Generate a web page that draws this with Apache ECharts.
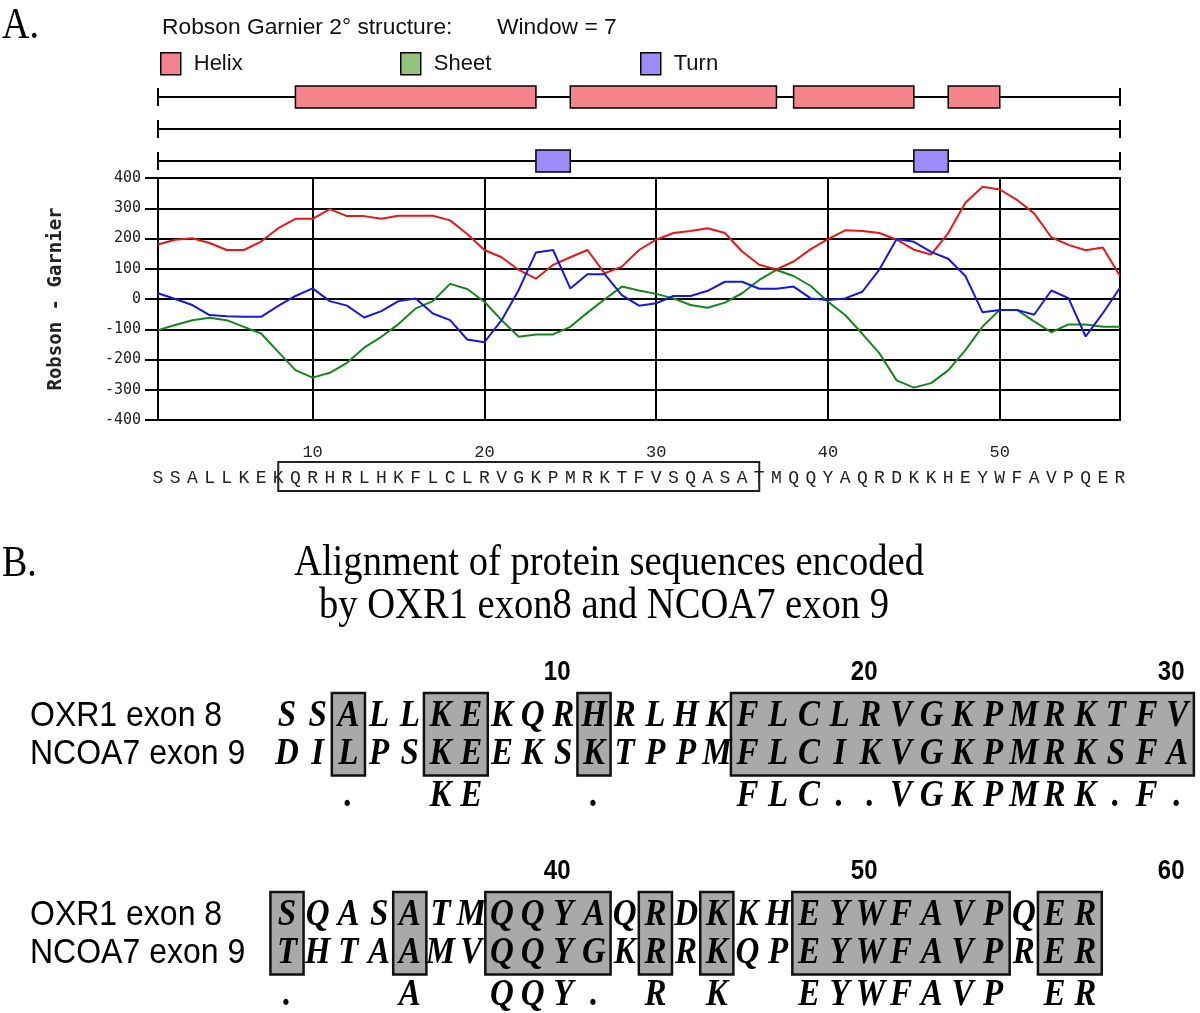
<!DOCTYPE html>
<html>
<head>
<meta charset="utf-8">
<title>Robson Garnier 2° structure / OXR1 - NCOA7 alignment</title>
<script src="https://cdn.jsdelivr.net/npm/echarts@6/dist/echarts.min.js"></script>
<style>
	html, body { margin: 0; padding: 0; background: #fff; }
	#main { width: 1200px; height: 1013px; }
</style>
</head>
<body>
<div id="main"></div>
<script>
	// ---- A. Robson Garnier profile (window = 7) ----
	var residues = [];
	for (var n = 1; n <= 57; n++) residues.push(String(n));

	var sequence = 'SSALLKEKQRHRLHKFLCLRVGKPMRKTFVSQASATMQQYAQRDKKHEYWFAVPQER'.split('');

	var helixValues = [180, 196, 201, 185, 162, 162, 190, 234, 265, 265,
		297, 274, 274, 265, 275, 275, 275, 260, 215, 162,
		138, 96, 67, 113, 138, 162, 85, 107, 162, 196,
		218, 225, 234, 218, 157, 113, 98, 124, 165, 198,
		227, 225, 218, 196, 163, 147, 218, 318, 371, 362,
		328, 283, 204, 179, 161, 170, 76];

	var sheetValues = [-103, -86, -70, -62, -70, -92, -114, -175, -235, -260,
		-244, -211, -161, -125, -83, -31, -7, 50, 33, -9,
		-70, -125, -117, -117, -92, -45, -1, 41, 28, 17,
		2, -20, -29, -12, 19, 63, 96, 76, 43, -9,
		-53, -115, -180, -269, -293, -278, -236, -169, -91, -36,
		-36, -74, -110, -84, -84, -92, -92];

	var turnValues = [19, 0, -20, -53, -57, -59, -59, -23, 10, 35,
		-7, -22, -61, -40, -7, 2, -48, -70, -134, -143,
		-70, 30, 154, 162, 35, 82, 82, 13, -22, -14,
		10, 10, 27, 57, 57, 34, 34, 41, 2, -3,
		2, 24, 98, 198, 189, 156, 133, 76, -44, -36,
		-36, -52, 28, 3, -124, -47, 37];

	var yTicks = [-400, 400, 100]; // min, max, step

	// predicted structure spans (residue from, residue to)
	var helixSpans = [[9, 23], [25, 37], [38, 45], [47, 50]];
	var sheetSpans = [];
	var turnSpans = [[23, 25], [45, 47]];
	var structureRows = ['Helix', 'Sheet', 'Turn'];

	// boxed stretch of the sequence under the plot
	var seqBox = [[9, 36]];

	// ---- B. alignment ----
	var oxr1Seq = 'SSALLKEKQRHRLHKFLCLRVGKPMRKTFVSQASATMQQYAQRDKKHEYWFAVPQER'.split('');
	var ncoa7Seq = 'DILPSKEEKSKTPPMFLCIKVGKPMRKSFATHTAAMVQQYGKRRKQPEYWFAVPRER'.split('');
	var consensusSeq = ('  .  KE   .    FLC..VGKPMRK.F.' + '.   A  QQY. R K  EYWFAVP ER').split('');
	var alignBoxes = [[3, 3], [6, 7], [11, 11], [16, 30], [31, 31], [35, 35], [38, 41], [43, 43], [45, 45], [48, 54], [56, 57]];
	var alignTicks = [10, 20, 30, 40, 50, 60];
	var alignNames = ['OXR1 exon 8', 'NCOA7 exon 9'];
	var blockLen = 30;

	var COLORS = {
		helix: '#f5838b',
		sheet: '#93c47d',
		turn: '#9d8cf7',
		helixLine: '#e81818',
		sheetLine: '#17861a',
		turnLine: '#1717e2'
	};

	var tenth = function (i) { return (i + 1) % 10 === 0; };

	function alignPos(res) {
		var block = Math.floor((res - 1) / blockLen);
		return [res - block * blockLen, block];
	}

	function spanRenderer(spans, row, color) {
		return function (params, api) {
			var s = spans[params.dataIndex];
			var a = api.coord([s[0], row]);
			var b = api.coord([s[1], row]);
			return {
				type: 'rect',
				shape: { x: a[0], y: a[1] - 11, width: b[0] - a[0], height: 22 },
				style: { fill: color, stroke: '#000', lineWidth: 1.5 }
			};
		};
	}

	function legendFor(name, left) {
		return {
			data: [name],
			left: left,
			top: 52,
			padding: 0,
			icon: 'rect',
			itemWidth: 20,
			itemHeight: 22,
			selectedMode: false,
			itemStyle: { borderColor: '#000', borderWidth: 1.5 },
			textStyle: { fontFamily: 'Liberation Sans', fontSize: 22, color: '#111', padding: [0, 0, 0, 8] }
		};
	}

	function serifText(text, x, y, size, align) {
		return {
			type: 'text', x: x, y: y, scaleY: 1.15,
			style: { text: text, font: size + 'px "Liberation Serif"', fill: '#000', align: align || 'left', verticalAlign: 'middle' }
		};
	}

	var chart = echarts.init(document.getElementById('main'));

	var option = {
		animation: false,
		textStyle: { fontFamily: 'Liberation Sans' },
		graphic: [
			serifText('A.', 2, 27, 38),
			serifText('B.', 2, 565, 38),
			serifText('Alignment of protein sequences encoded', 609, 563, 38.6, 'center'),
			serifText('by OXR1 exon8 and NCOA7 exon 9', 604, 606, 38.6, 'center'),
			{
				type: 'text', x: 162, y: 28,
				style: { text: 'Robson Garnier 2° structure:', font: '22.8px "Liberation Sans"', fill: '#111', verticalAlign: 'middle' }
			},
			{
				type: 'text', x: 497, y: 28,
				style: { text: 'Window = 7', font: '22.8px "Liberation Sans"', fill: '#111', verticalAlign: 'middle' }
			}
		],
		legend: [legendFor('Helix', 160), legendFor('Sheet', 400), legendFor('Turn', 640)],
		grid: [
			{ left: 158, right: 80, top: 178, height: 242, show: true, borderColor: '#000', borderWidth: 2 },
			{ left: 158, right: 80, top: 97, height: 64 },
			{ left: 256.3, width: 936.35, top: 716, height: 199 }
		],
		xAxis: [
			{
				gridIndex: 0,
				type: 'category',
				data: residues,
				boundaryGap: false,
				axisLine: { lineStyle: { color: '#000', width: 2 } },
				axisTick: { interval: tenth, length: 12, lineStyle: { color: '#000', width: 2 } },
				axisLabel: { interval: tenth, margin: 24, fontFamily: 'Liberation Mono', fontSize: 17, color: '#222' },
				splitLine: { show: true, interval: tenth, lineStyle: { color: '#000', width: 2 } }
			},
			{
				gridIndex: 0,
				type: 'category',
				data: residues,
				boundaryGap: false,
				position: 'bottom',
				offset: 40,
				axisLine: { show: false },
				axisTick: { show: false },
				splitLine: { show: false },
				axisLabel: {
					interval: 0, margin: 9, fontFamily: 'Liberation Mono', fontSize: 18, color: '#222',
					formatter: function (v, i) { return sequence[i]; }
				}
			},
			{ gridIndex: 1, type: 'value', min: 1, max: 57, show: false },
			{ gridIndex: 2, type: 'value', min: 0, max: 30.5, show: false }
		],
		yAxis: [
			{
				gridIndex: 0,
				type: 'value',
				min: yTicks[0],
				max: yTicks[1],
				interval: yTicks[2],
				name: 'Robson - Garnier',
				nameLocation: 'middle',
				nameGap: 92,
				nameTextStyle: { fontFamily: 'DejaVu Sans Mono', fontSize: 19, fontWeight: 'bold', color: '#222' },
				axisLine: { show: true, lineStyle: { color: '#000', width: 2 } },
				axisTick: { show: true, length: 13, lineStyle: { color: '#000', width: 2 } },
				axisLabel: { margin: 17, fontFamily: 'DejaVu Sans Mono', fontSize: 15, color: '#222' },
				splitLine: { lineStyle: { color: '#000', width: 2 } }
			},
			{ gridIndex: 1, type: 'value', min: 0, max: 2, inverse: true, show: false },
			{ gridIndex: 2, type: 'value', min: 0, max: 1, inverse: true, show: false }
		],
		series: [
			{
				name: 'helix profile', type: 'line', xAxisIndex: 0, yAxisIndex: 0,
				data: helixValues, symbol: 'none', z: 5,
				lineStyle: { color: COLORS.helixLine, width: 2 }
			},
			{
				name: 'sheet profile', type: 'line', xAxisIndex: 0, yAxisIndex: 0,
				data: sheetValues, symbol: 'none', z: 4,
				lineStyle: { color: COLORS.sheetLine, width: 2 }
			},
			{
				name: 'turn profile', type: 'line', xAxisIndex: 0, yAxisIndex: 0,
				data: turnValues, symbol: 'none', z: 6,
				lineStyle: { color: COLORS.turnLine, width: 2 }
			},
			// box round a stretch of the sequence (category index = residue - 1)
			{
				type: 'custom', xAxisIndex: 0, yAxisIndex: 0, silent: true,
				data: seqBox.map(function (s) { return [s[0] - 1, yTicks[0]]; }),
				renderItem: function (params, api) {
					var s = seqBox[params.dataIndex];
					var a = api.coord([s[0] - 1 - 0.6, yTicks[0]]);
					var b = api.coord([s[1] - 1 + 0.45, yTicks[0]]);
					return {
						type: 'rect',
						shape: { x: a[0], y: a[1] + 42, width: b[0] - a[0], height: 29 },
						style: { fill: 'none', stroke: '#222', lineWidth: 2 }
					};
				}
			},
			// structure tracks
			{
				type: 'custom', xAxisIndex: 2, yAxisIndex: 1, silent: true, z: 1,
				data: structureRows.map(function (r, i) { return [1, i, 57]; }),
				renderItem: function (params, api) {
					var a = api.coord([1, params.dataIndex]);
					var b = api.coord([57, params.dataIndex]);
					var st = { stroke: '#000', lineWidth: 2 };
					return {
						type: 'group',
						children: [
							{ type: 'line', shape: { x1: a[0], y1: a[1], x2: b[0], y2: b[1] }, style: st },
							{ type: 'line', shape: { x1: a[0], y1: a[1] - 9, x2: a[0], y2: a[1] + 9 }, style: st },
							{ type: 'line', shape: { x1: b[0], y1: b[1] - 9, x2: b[0], y2: b[1] + 9 }, style: st }
						]
					};
				}
			},
			{
				name: 'Helix', type: 'custom', xAxisIndex: 2, yAxisIndex: 1, silent: true, z: 3,
				itemStyle: { color: COLORS.helix, borderColor: '#000', borderWidth: 1.5 },
				data: helixSpans.map(function (s) { return [s[0], 0, s[1]]; }),
				renderItem: spanRenderer(helixSpans, 0, COLORS.helix)
			},
			{
				name: 'Sheet', type: 'custom', xAxisIndex: 2, yAxisIndex: 1, silent: true, z: 3,
				itemStyle: { color: COLORS.sheet, borderColor: '#000', borderWidth: 1.5 },
				data: sheetSpans.map(function (s) { return [s[0], 1, s[1]]; }),
				renderItem: spanRenderer(sheetSpans, 1, COLORS.sheet)
			},
			{
				name: 'Turn', type: 'custom', xAxisIndex: 2, yAxisIndex: 1, silent: true, z: 3,
				itemStyle: { color: COLORS.turn, borderColor: '#000', borderWidth: 1.5 },
				data: turnSpans.map(function (s) { return [s[0], 2, s[1]]; }),
				renderItem: spanRenderer(turnSpans, 2, COLORS.turn)
			},
			// alignment: grey boxes of identical residues
			{
				type: 'custom', xAxisIndex: 3, yAxisIndex: 2, silent: true, z: 2,
				data: alignBoxes.map(function (b) { return alignPos(b[0]); }),
				renderItem: function (params, api) {
					var b = alignBoxes[params.dataIndex];
					var s = alignPos(b[0]);
					var e = alignPos(b[1]);
					var a = api.coord([s[0] - 0.54, s[1]]);
					var c = api.coord([e[0] + 0.54, s[1]]);
					return {
						type: 'rect',
						shape: { x: a[0], y: a[1] - 23, width: c[0] - a[0], height: 82.5 },
						style: { fill: '#a9a9a9', stroke: '#111', lineWidth: 2.5 }
					};
				}
			},
			// alignment: residues and consensus
			{
				type: 'custom', xAxisIndex: 3, yAxisIndex: 2, silent: true, z: 3,
				data: oxr1Seq.map(function (ch, i) { return alignPos(i + 1); }),
				renderItem: function (params, api) {
					var i = params.dataIndex;
					var p = api.coord(alignPos(i + 1));
					var rows = [[oxr1Seq[i], 0], [ncoa7Seq[i], 38.5], [consensusSeq[i], 80]];
					var kids = [];
					rows.forEach(function (r) {
						if (!r[0] || r[0] === ' ') return;
						kids.push({
							type: 'text', x: p[0], y: p[1] + r[1], scaleY: 1.15,
							style: {
								text: r[0], font: 'italic bold 33px "Liberation Serif"', fill: '#000',
								align: 'center', verticalAlign: 'middle'
							}
						});
					});
					return { type: 'group', children: kids };
				}
			},
			// alignment: position numbers
			{
				type: 'custom', xAxisIndex: 3, yAxisIndex: 2, silent: true, z: 3,
				data: alignTicks.map(function (t) { return alignPos(t); }),
				renderItem: function (params, api) {
					var t = alignTicks[params.dataIndex];
					var q = alignPos(t);
					var p = api.coord([q[0] - 0.2, q[1]]);
					return {
						type: 'text', x: p[0], y: p[1] - 44, scaleY: 1.15,
						style: { text: String(t), font: 'bold 24px "Liberation Sans"', fill: '#000', align: 'center', verticalAlign: 'middle' }
					};
				}
			},
			// alignment: row names
			{
				type: 'custom', xAxisIndex: 3, yAxisIndex: 2, silent: true, z: 3,
				data: [[1, 0], [1, 1]],
				renderItem: function (params, api) {
					var p = api.coord([1, params.dataIndex]);
					return {
						type: 'group',
						children: alignNames.map(function (nm, k) {
							return {
								type: 'text', x: 30, y: p[1] + k * 38.5, scaleY: 1.1,
								style: { text: nm, font: '32px "Liberation Sans"', fill: '#000', align: 'left', verticalAlign: 'middle' }
							};
						})
					};
				}
			}
		]
	};

	chart.setOption(option);
</script>
</body>
</html>
